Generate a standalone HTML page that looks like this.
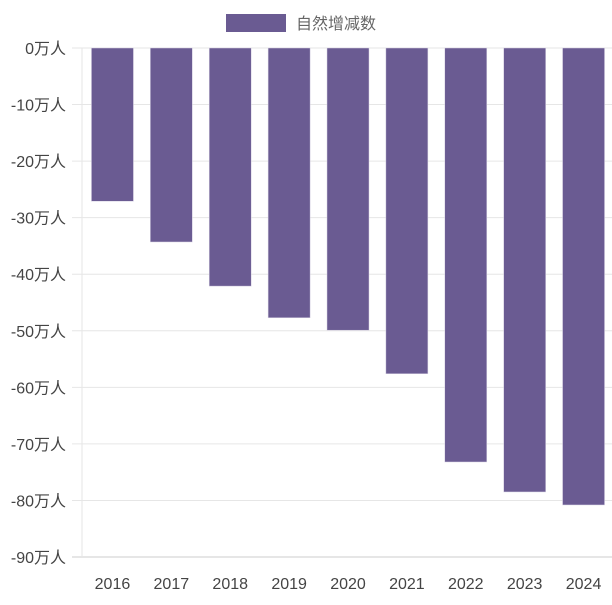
<!DOCTYPE html>
<html><head><meta charset="utf-8"><style>
body{margin:0;background:#fff;}
svg text{font-family:"Liberation Sans","Noto Sans CJK SC",sans-serif;}
</style></head><body>
<svg id="c" width="612" height="600"></svg>
<script>
const categories=["2016","2017","2018","2019","2020","2021","2022","2023","2024"];
const values=[-27.1,-34.3,-42.1,-47.7,-49.9,-57.6,-73.2,-78.5,-80.8];
const ticks=[0,-10,-20,-30,-40,-50,-60,-70,-80,-90];
const seriesName="自然增减数";
const NS="http://www.w3.org/2000/svg";
const svg=document.getElementById('c');
const L=82,R=612,T=48,B=557;
const y=v=>T+(0-v)/90*(B-T);
const bw=(R-L)/categories.length;
const x=i=>L+bw*i+bw/2+1;
function mk(t,a){const e=document.createElementNS(NS,t);for(const k in a)e.setAttribute(k,a[k]);svg.appendChild(e);return e;}
ticks.forEach(t=>{
 const g=mk('line',{x1:72,x2:R,y1:y(t),y2:y(t),stroke:t===-90?'#ccc':'#e6e6e6','stroke-width':1});
 
 
 const lb=mk('text',{x:66,y:y(t)+6,'text-anchor':'end','font-size':16,fill:'#444'});
 lb.textContent=t+'万人';
 
 
});
const ax=mk('line',{x1:L,x2:L,y1:T,y2:B,stroke:'#e6e6e6'});


values.forEach((v,i)=>{
 const r=mk('rect',{x:x(i)-21,y:y(0),width:42,height:y(v)-y(0),fill:'#6a5b92',stroke:'#d8d3e4','stroke-width':0.5});
 
 
 const t=mk('text',{x:x(i),y:589,'text-anchor':'middle','font-size':16,fill:'#444'});
 t.textContent=categories[i];
 
 
});
const lr=mk('rect',{x:226,y:14,width:60,height:18,fill:'#6a5b92'});


const lt=mk('text',{x:296,y:29,'font-size':16,fill:'#666'});
lt.textContent=seriesName;


</script>
</body></html>
